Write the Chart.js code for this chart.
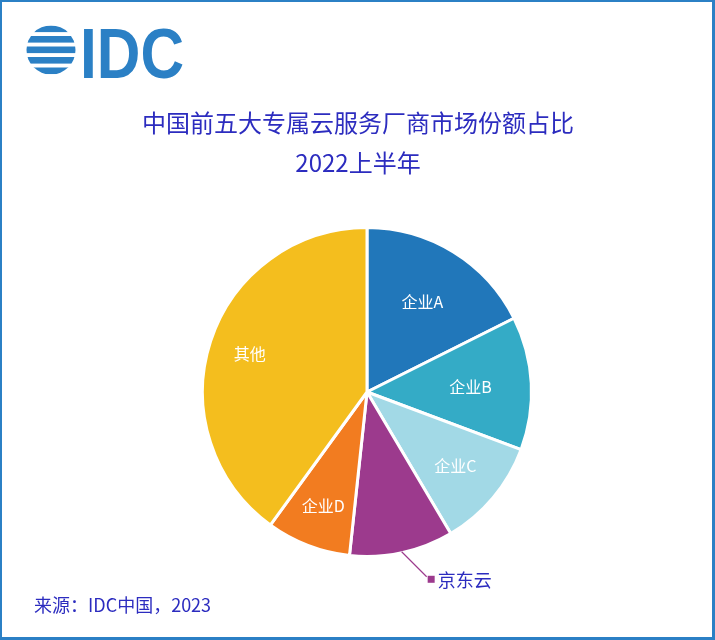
<!DOCTYPE html>
<html>
<head>
<meta charset="utf-8">
<script src="https://cdn.jsdelivr.net/npm/chart.js@4"></script>
<style>
  html, body { margin: 0; padding: 0; background: #fff; }
  #chart { display: block; }
</style>
</head>
<body>
<canvas id="chart" width="715" height="640"></canvas>
<script>
// ===============================
// DATA
// ===============================
const vendors = ["企业A", "企业B", "企业C", "京东云", "企业D", "其他"];
const shares = [17.6, 13.1, 10.8, 10.2, 8.3, 40.0];
const titleLines = ["中国前五大专属云服务厂商市场份额占比", "2022上半年"];
const sourceNote = "来源：IDC中国，2023";

// ===============================
// STYLE
// ===============================
const sliceColors = ["#2177ba", "#34abc6", "#a2d9e6", "#9c3a8d", "#f27c20", "#f4be1e"];
const labelRadius = [0.64, 0.63, 0.70, null, 0.74, 0.75]; // null = callout outside
const FONT = '"Noto Sans CJK SC", "Noto Sans", sans-serif';
const TEXT_BLUE = "#2c2cbf";
const FRAME_BLUE = "#2b80c5";

// logo, title, source note, frame
const decorPlugin = {
  id: "decor",
  afterDraw(chart) {
    const ctx = chart.ctx;
    ctx.save();

    // IDC logo: striped globe
    ctx.save();
    ctx.beginPath();
    ctx.arc(51, 50, 24.5, 0, Math.PI * 2);
    ctx.clip();
    ctx.fillStyle = FRAME_BLUE;
    for (let i = 0; i < 5; i++) {
      ctx.fillRect(24, 25.5 + i * 10.5, 54, 6.6);
    }
    ctx.restore();

    ctx.fillStyle = FRAME_BLUE;
    ctx.font = "bold 71px 'Liberation Sans', Arial, sans-serif";
    ctx.textAlign = "left";
    ctx.textBaseline = "alphabetic";
    ctx.fillText("IDC", 80, 78, 104);

    // title
    ctx.fillStyle = TEXT_BLUE;
    ctx.font = "24px " + FONT;
    ctx.textAlign = "center";
    ctx.textBaseline = "middle";
    ctx.fillText(titleLines[0], 358, 123);
    ctx.fillText(titleLines[1], 358, 163);

    // source
    ctx.font = "18px " + FONT;
    ctx.textAlign = "left";
    ctx.fillText(sourceNote, 34, 605);

    // frame
    ctx.fillStyle = FRAME_BLUE;
    const w = chart.width, h = chart.height;
    ctx.fillRect(0, 0, w, 2);
    ctx.fillRect(0, 0, 2, h);
    ctx.fillRect(w - 3, 0, 3, h);
    ctx.fillRect(0, h - 3, w, 3);
    ctx.restore();
  }
};

// slice labels
const sliceLabels = {
  id: "sliceLabels",
  afterDatasetsDraw(chart) {
    const ctx = chart.ctx;
    const arcs = chart.getDatasetMeta(0).data;
    ctx.save();
    arcs.forEach((arc, i) => {
      const { x, y, startAngle, endAngle, outerRadius } = arc.getProps(
        ["x", "y", "startAngle", "endAngle", "outerRadius"], true);
      const mid = (startAngle + endAngle) / 2;
      const f = labelRadius[i];
      if (f !== null) {
        ctx.fillStyle = "#fff";
        ctx.font = "16px " + FONT;
        ctx.textAlign = "center";
        ctx.textBaseline = "middle";
        ctx.fillText(vendors[i], x + Math.cos(mid) * outerRadius * f, y + Math.sin(mid) * outerRadius * f);
      } else {
        // callout below the pie
        const sx = x + Math.cos(mid) * (outerRadius - 1);
        const sy = y + Math.sin(mid) * (outerRadius - 1);
        const ex = sx + 25, ey = sy + 25;
        ctx.strokeStyle = sliceColors[i];
        ctx.lineWidth = 1.2;
        ctx.beginPath();
        ctx.moveTo(sx, sy);
        ctx.lineTo(ex, ey);
        ctx.stroke();
        ctx.fillStyle = sliceColors[i];
        ctx.fillRect(ex + 1, ey - 1, 7, 7);
        ctx.fillStyle = TEXT_BLUE;
        ctx.font = "18px " + FONT;
        ctx.textAlign = "left";
        ctx.textBaseline = "middle";
        ctx.fillText(vendors[i], ex + 11, ey + 3);
      }
    });
    ctx.restore();
  }
};

new Chart(document.getElementById("chart"), {
  type: "pie",
  data: {
    labels: vendors,
    datasets: [{
      data: shares,
      backgroundColor: sliceColors,
      borderColor: "#fff",
      borderWidth: 3
    }]
  },
  options: {
    responsive: false,
    animation: false,
    layout: { padding: { left: 201, right: 182, top: 226, bottom: 82 } },
    plugins: {
      legend: { display: false },
      tooltip: { enabled: false }
    }
  },
  plugins: [sliceLabels, decorPlugin]
});
</script>
</body>
</html>
